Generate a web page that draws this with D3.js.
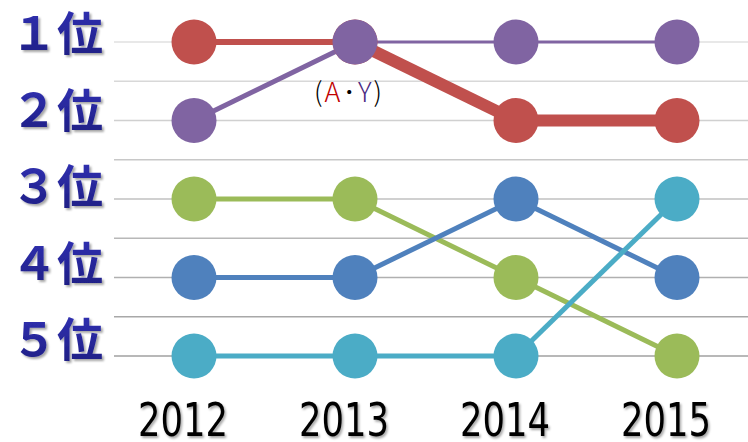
<!DOCTYPE html>
<html>
<head>
<meta charset="utf-8">
<script src="https://cdn.jsdelivr.net/npm/d3@7"></script>
<style>
  body { margin: 0; background: #fff; }
  svg { display: block; }
</style>
</head>
<body>
<svg id="chart" width="748" height="442"></svg>
<script>
// ranking data, one array per series (1 = top)
const years = ["2012", "2013", "2014", "2015"];
const rankTicks = [1, 2, 3, 4, 5];
const rankLabels = ["１位", "２位", "３位", "４位", "５位"];
const rankA = [1, 1, 2, 2];      // red
const rankY = [2, 1, 1, 1];      // purple
const rankGreen = [3, 3, 4, 5];
const rankBlue = [4, 4, 3, 4];
const rankCyan = [5, 5, 5, 3];

const svg = d3.select("svg#chart");
const width = 748, height = 442;

const x = d3.scalePoint().domain(years).range([194, 677]);
const y = d3.scaleLinear().domain([1, 5]).range([42, 356]);
// the rank labels sit a little above their gridline
const yLabel = d3.scaleLinear().domain([1, 5]).range([50, 356]);

const series = [
  { ranks: rankA, color: "#c0504d", widths: [6, 12, 12] },
  { ranks: rankY, color: "#8064a2", widths: [5, 3, 3] },
  { ranks: rankGreen, color: "#9bbb59", widths: [5, 5, 5] },
  { ranks: rankBlue, color: "#4f81bd", widths: [5, 5, 5] },
  { ranks: rankCyan, color: "#4bacc6", widths: [5, 5, 5] }
];

const defs = svg.append("defs");
const shadow = defs.append("filter").attr("id", "shadow")
  .attr("x", "-10%").attr("y", "-10%").attr("width", "130%").attr("height", "130%");
shadow.append("feDropShadow")
  .attr("dx", 2).attr("dy", 2).attr("stdDeviation", 1.2)
  .attr("flood-color", "#000").attr("flood-opacity", 0.35);

const grad = defs.append("linearGradient").attr("id", "blueText")
  .attr("x1", 0).attr("y1", 0).attr("x2", 0).attr("y2", 1);
grad.append("stop").attr("offset", "0%").attr("stop-color", "#3535bb");
grad.append("stop").attr("offset", "100%").attr("stop-color", "#1c1c80");

// gridlines on every half rank
const gridTicks = d3.range(1, 5.01, 0.5);
const gridColor = d3.scaleLinear().domain([1, 5]).range(["#e0e0e0", "#a0a0a0"]);
svg.append("g")
  .selectAll("line")
  .data(gridTicks)
  .join("line")
  .attr("x1", 114).attr("x2", width)
  .attr("y1", d => y(d)).attr("y2", d => y(d))
  .attr("stroke", d => gridColor(d))
  .attr("stroke-width", 1.6);

// rank labels
svg.append("g")
  .selectAll("text")
  .data(rankTicks)
  .join("text")
  .attr("x", 103)
  .attr("y", d => yLabel(d))
  .attr("text-anchor", "end")
  .attr("fill", "url(#blueText)")
  .attr("filter", "url(#shadow)")
  .style("font", "bold 46px 'Noto Sans CJK JP', sans-serif")
  .text((d, i) => rankLabels[i]);

// year labels, squeezed horizontally like the narrow original face
svg.append("g")
  .selectAll("text")
  .data(years)
  .join("text")
  .attr("transform", d => `translate(${x(d) - 11},436) scale(0.77,1)`)
  .attr("text-anchor", "middle")
  .attr("fill", "#000")
  .attr("filter", "url(#shadow)")
  .style("font", "46px 'DejaVu Sans', sans-serif")
  .text(d => d);

// line segments
const segs = [];
series.forEach(s => {
  for (let i = 0; i < s.ranks.length - 1; i++) {
    segs.push({ a: years[i], b: years[i + 1], r0: s.ranks[i], r1: s.ranks[i + 1], color: s.color, w: s.widths[i] });
  }
});
svg.append("g")
  .selectAll("line")
  .data(segs)
  .join("line")
  .attr("x1", d => x(d.a)).attr("y1", d => y(d.r0))
  .attr("x2", d => x(d.b)).attr("y2", d => y(d.r1))
  .attr("stroke", d => d.color)
  .attr("stroke-width", d => d.w);

// markers
series.forEach(s => {
  svg.append("g")
    .selectAll("circle")
    .data(s.ranks)
    .join("circle")
    .attr("cx", (d, i) => x(years[i]))
    .attr("cy", d => y(d))
    .attr("r", 22.5)
    .attr("fill", s.color);
});

// annotation
const note = svg.append("text")
  .attr("x", x("2013") - 6)
  .attr("y", 102)
  .attr("text-anchor", "middle")
  .style("font", "300 27px 'Noto Sans CJK JP', sans-serif")
  .style("letter-spacing", "2px");
note.append("tspan").attr("fill", "#000").text("(");
note.append("tspan").attr("fill", "#c00000").text("A");
note.append("tspan").attr("fill", "#000").text("･");
note.append("tspan").attr("fill", "#4b2a82").text("Y");
note.append("tspan").attr("fill", "#000").text(")");
</script>
</body>
</html>
